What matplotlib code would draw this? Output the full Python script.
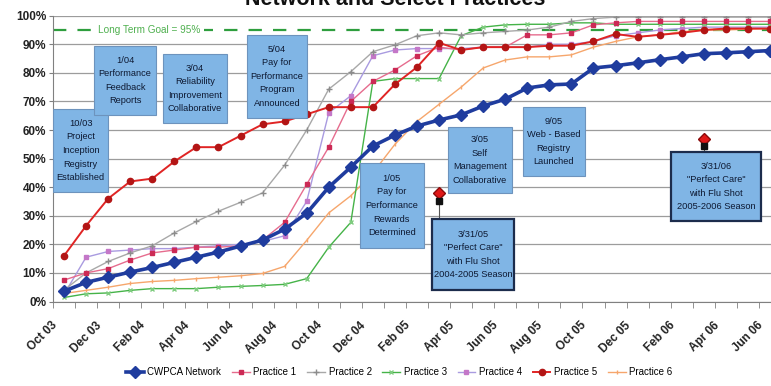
import matplotlib.pyplot as plt
import numpy as np
from matplotlib.patches import Rectangle
from matplotlib.ticker import FuncFormatter
from matplotlib.transforms import ScaledTranslation

plt.rcParams["font.family"] = ["Liberation Sans", "DejaVu Sans"]

months = [
    "Oct 03", "Nov 03", "Dec 03", "Jan 04", "Feb 04", "Mar 04", "Apr 04",
    "May 04", "Jun 04", "Jul 04", "Aug 04", "Sep 04", "Oct 04", "Nov 04",
    "Dec 04", "Jan 05", "Feb 05", "Mar 05", "Apr 05", "May 05", "Jun 05",
    "Jul 05", "Aug 05", "Sep 05", "Oct 05", "Nov 05", "Dec 05", "Jan 06",
    "Feb 06", "Mar 06", "Apr 06", "May 06", "Jun 06",
]

# percent of patients, monthly
cwpca = [3.6, 6.7, 8.5, 10.3, 11.9, 13.7, 15.5, 17.3, 19.4, 21.5, 25.3, 30.9,
         40.0, 47.0, 54.4, 58.2, 61.4, 63.5, 65.3, 68.4, 70.8, 74.7, 75.8,
         76.1, 81.7, 82.5, 83.5, 84.6, 85.6, 86.7, 87.0, 87.4, 87.8]
practice1 = [7.5, 10, 11.5, 14.5, 17, 18, 19, 19, 19.5, 21.5, 27.7, 41, 54,
             70, 77, 81, 86, 89, 88, 89, 89, 93.3, 93.3, 94, 96.8, 97.5, 98,
             98, 98, 98, 98, 98, 98]
practice2 = [4, 10, 14, 17, 19.5, 24, 28, 31.6, 34.7, 38, 47.7, 60, 74.3,
             80.4, 87.4, 89.8, 93, 94, 93.3, 94, 94.5, 95, 96, 98, 99, 99.5,
             99.5, 99.5, 99.5, 99.5, 99.5, 99.5, 99.5]
practice3 = [1.4, 2.7, 3, 3.9, 4.5, 4.5, 4.5, 5, 5.3, 5.6, 6, 8, 19, 27.7, 77,
             78, 78, 78, 93, 96, 96.8, 97, 97, 97.5, 97.5, 97, 97, 97, 97, 97,
             97, 97, 97]
practice4 = [2.5, 15.5, 17.5, 18, 18.5, 18.5, 19, 19.5, 20, 21, 23, 35, 66,
             72, 86, 88, 88.5, 88.5, 88.5, 89, 89, 89, 90, 90, 91, 93, 94, 95,
             95.5, 96, 96, 96, 96]
practice5 = [16, 26.5, 36, 42, 43, 49, 54, 54, 58, 62, 63, 65.5, 68, 68, 68,
             76, 82, 90.5, 88, 89, 89, 89, 89.5, 89.5, 91, 93.6, 92.6, 93.3,
             94, 95, 95.5, 95.5, 95.5]
practice6 = [2.8, 3.9, 5, 6.3, 7, 7.4, 8, 8.5, 9, 9.8, 12.3, 21.4, 31, 37, 45,
             55, 63, 69, 75, 81.7, 84.5, 85.6, 85.6, 86.3, 89, 91, 92.6, 93.3,
             94.4, 95, 95, 95.3, 95.5]

goal = 95
perfect_care_months = ["Mar 05", "Mar 06"]
perfect_care_values = [38, 57]

# milestone notes: (text, x0, x1, y0, y1, dark border)
milestones = [
    ("10/03\nProject\nInception\nRegistry\nEstablished", -0.5, 2.0, 38.3, 67.4, False),
    ("1/04\nPerformance\nFeedback\nReports", 1.36, 4.17, 65.3, 89.4, False),
    ("3/04\nReliability\nImprovement\nCollaborative", 4.49, 7.39, 62.4, 86.6, False),
    ("5/04\nPay for\nPerformance\nProgram\nAnnounced", 8.3, 11.0, 64.2, 93.3, False),
    ("1/05\nPay for\nPerformance\nRewards\nDetermined", 13.4, 16.3, 18.7, 48.5, False),
    ("3/05\nSelf\nManagement\nCollaborative", 17.4, 20.3, 38.0, 61.1, False),
    ("9/05\nWeb - Based\nRegistry\nLaunched", 20.8, 23.6, 43.9, 68.1, False),
    ("3/31/05\n\"Perfect Care\"\nwith Flu Shot\n2004-2005 Season", 16.7, 20.4, 4.0, 28.9, True),
    ("3/31/06\n\"Perfect Care\"\nwith Flu Shot\n2005-2006 Season", 27.5, 31.6, 28.2, 52.3, True),
]

fig = plt.figure(figsize=(7.71, 3.86), dpi=100)
ax = fig.add_axes([53 / 771, 84.5 / 386, 728 / 771, 285.8 / 386])
x = np.arange(len(months))

ax.axhline(goal, color="#2E9E3E", lw=1.6, dashes=(6, 5), zorder=1.5)

ax.plot(x, practice6, color="#F6A66C", lw=1.0, marker="|", ms=3,
        mec="#F6A66C", label="Practice 6", zorder=2)
ax.plot(x, practice5, color="#E02424", lw=1.4, marker="o", ms=4.5,
        mfc="#B31515", mec="#B31515", label="Practice 5", zorder=3)
ax.plot(x, practice4, color="#A99BE0", lw=1.0, marker="s", ms=3.5,
        mfc="#C477C8", mec="#C477C8", label="Practice 4", zorder=2)
ax.plot(x, practice3, color="#45B348", lw=1.0, marker="x", ms=3.5,
        mec="#7FCC7F", label="Practice 3", zorder=2)
ax.plot(x, practice2, color="#A8A8A8", lw=1.0, marker="+", ms=4,
        mec="#8C8C8C", label="Practice 2", zorder=2)
ax.plot(x, practice1, color="#E66C8E", lw=1.0, marker="s", ms=3.5,
        mfc="#CC2A55", mec="#CC2A55", label="Practice 1", zorder=2.5)
ax.plot(x, cwpca, color="#1F3C9E", lw=2.6, marker="D", ms=6,
        mfc="#1F3C9E", mec="#1F3C9E", label="CWPCA Network", zorder=4)

# single "Perfect Care" readings, tied to their notes
for m, v in zip(perfect_care_months, perfect_care_values):
    i = months.index(m)
    box = next(b for b in milestones if b[1] <= i <= b[2] and b[5])
    ax.plot([i, i], [box[4], v], color="#555555", lw=0.8, zorder=4)
    ax.plot(i, v, marker="D", ms=6, color="#E01818", mec="#8A0A0A", zorder=5)
    ax.plot(i, v - 2.7, marker="s", ms=4, color="#111111", zorder=5)

for text, x0, x1, y0, y1, dark in milestones:
    ax.add_patch(Rectangle((x0, y0), x1 - x0, y1 - y0,
                           facecolor="#80B5E5",
                           edgecolor="#1C2C4C" if dark else "#6D93BD",
                           lw=1.6 if dark else 0.8, zorder=6))
    ax.text((x0 + x1) / 2, (y0 + y1) / 2, text, ha="center", va="center",
            fontsize=6.7, linespacing=1.65, color="#0E1A33", zorder=7)

ax.text(3.85, goal, "Long Term Goal = 95%", ha="center", va="center",
        fontsize=7.2, color="#4FB04F", zorder=6,
        bbox=dict(facecolor="white", edgecolor="none", pad=2.5))

ax.set_xlim(-0.5, len(months) - 0.5)
ax.set_ylim(0, 100)
ax.set_yticks(np.arange(0, 101, 10))
ax.yaxis.set_major_formatter(FuncFormatter(lambda v, _: f"{v:.0f}%"))
ax.yaxis.grid(True, color="#9C9C9C", lw=0.9)
ax.set_axisbelow(True)

ax.set_xticks(x[::2])
ax.set_xticklabels(months[::2], rotation=45, ha="right",
                   rotation_mode="anchor")
ax.set_xticks(np.arange(-0.5, len(months), 1), minor=True)
ax.tick_params(axis="x", which="major", length=0, pad=13,
               labelsize=8.5)
ax.tick_params(axis="x", which="minor", length=4, color="#808080")
ax.tick_params(axis="y", length=3, color="#808080", labelsize=8.5, pad=2)
for lab in ax.get_xticklabels() + ax.get_yticklabels():
    lab.set_fontweight("bold")
    lab.set_color("#222222")
shift = ScaledTranslation(-0.13, 0, fig.dpi_scale_trans)
for lab in ax.get_xticklabels():
    lab.set_transform(lab.get_transform() + shift)

for side in ("top", "right"):
    ax.spines[side].set_visible(False)
for side in ("left", "bottom"):
    ax.spines[side].set_color("#808080")

handles, labels = ax.get_legend_handles_labels()
order = [labels.index(n) for n in ["CWPCA Network", "Practice 1", "Practice 2",
                                   "Practice 3", "Practice 4", "Practice 5",
                                   "Practice 6"]]
fig.legend([handles[k] for k in order], [labels[k] for k in order],
           loc="center", bbox_to_anchor=(0.518, 0.036), ncol=7, frameon=False,
           fontsize=7, handlelength=1.8, columnspacing=1.1,
           handletextpad=0.4)

fig.text(0.512, 1 - 5 / 386, "Network and Select Practices", ha="center",
         va="baseline", fontsize=15.5, fontweight="bold", color="#111111")

fig.savefig("out.png", dpi=100)
